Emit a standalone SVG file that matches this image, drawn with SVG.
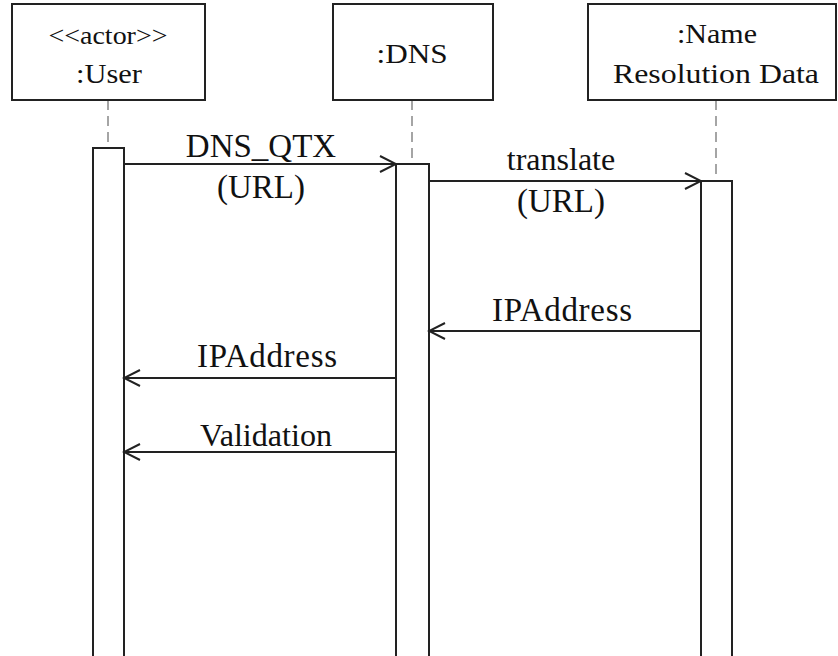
<svg xmlns="http://www.w3.org/2000/svg" width="838" height="656" viewBox="0 0 838 656">
<style>
.box{fill:#fff;stroke:#222;stroke-width:2}
.life{stroke:#888;stroke-width:1.5;stroke-dasharray:10,6;fill:none}
.act{fill:#fff;stroke:#222;stroke-width:2}
.msg{stroke:#222;stroke-width:2;fill:none}
</style>
<defs>
<marker id="open" markerWidth="20" markerHeight="20" refX="18" refY="10" orient="auto" markerUnits="userSpaceOnUse">
<path d="M2,2 L18,10 L2,18" fill="none" stroke="#222" stroke-width="2"/>
</marker>
</defs>
<rect width="838" height="656" fill="#fff"/>
<g id="lifelines">
<line class="life" x1="108" y1="100" x2="108" y2="148"/>
<line class="life" x1="412" y1="100" x2="412" y2="164"/>
<line class="life" x1="716" y1="100" x2="716" y2="181"/>
</g>
<g id="user">
<rect class="box" x="12" y="4" width="193" height="96"/>
<text x="108" y="44" font-family="Liberation Serif" fill="#111" text-anchor="middle" font-size="25" textLength="119" lengthAdjust="spacingAndGlyphs">&lt;&lt;actor&gt;&gt;</text>
<text x="109" y="83" font-family="Liberation Serif" fill="#111" text-anchor="middle" font-size="28" textLength="66" lengthAdjust="spacingAndGlyphs">:User</text>
<rect class="act" x="93" y="148" width="31" height="520"/>
</g>
<g id="dns">
<rect class="box" x="333" y="4" width="160" height="96"/>
<text x="412" y="63" font-family="Liberation Serif" fill="#111" text-anchor="middle" font-size="28" textLength="71" lengthAdjust="spacingAndGlyphs">:DNS</text>
<rect class="act" x="396" y="164" width="33" height="510"/>
</g>
<g id="namedata">
<rect class="box" x="588" y="4" width="248" height="96"/>
<text x="717" y="43" font-family="Liberation Serif" fill="#111" text-anchor="middle" font-size="28" textLength="80" lengthAdjust="spacingAndGlyphs">:Name</text>
<text x="716" y="83" font-family="Liberation Serif" fill="#111" text-anchor="middle" font-size="28" textLength="206" lengthAdjust="spacingAndGlyphs">Resolution Data</text>
<rect class="act" x="701" y="181" width="31" height="490"/>
</g>
<g id="connectors">
<line class="msg" x1="124" y1="164" x2="396" y2="164" marker-end="url(#open)"/>
<text x="261" y="157" font-family="Liberation Serif" fill="#111" text-anchor="middle" font-size="33">DNS_QTX</text>
<text x="261" y="198" font-family="Liberation Serif" fill="#111" text-anchor="middle" font-size="33">(URL)</text>
<line class="msg" x1="429" y1="181" x2="701" y2="181" marker-end="url(#open)"/>
<text x="561" y="170" font-family="Liberation Serif" fill="#111" text-anchor="middle" font-size="32">translate</text>
<text x="561" y="212" font-family="Liberation Serif" fill="#111" text-anchor="middle" font-size="33">(URL)</text>
<line class="msg" x1="701" y1="331" x2="429" y2="331" marker-end="url(#open)"/>
<text x="562" y="321" font-family="Liberation Serif" fill="#111" text-anchor="middle" font-size="33" textLength="140" lengthAdjust="spacing">IPAddress</text>
<line class="msg" x1="396" y1="378" x2="124" y2="378" marker-end="url(#open)"/>
<text x="267" y="367" font-family="Liberation Serif" fill="#111" text-anchor="middle" font-size="33" textLength="140" lengthAdjust="spacing">IPAddress</text>
<line class="msg" x1="396" y1="452" x2="124" y2="452" marker-end="url(#open)"/>
<text x="266" y="446" font-family="Liberation Serif" fill="#111" text-anchor="middle" font-size="32" textLength="132" lengthAdjust="spacingAndGlyphs">Validation</text>
</g>
</svg>
